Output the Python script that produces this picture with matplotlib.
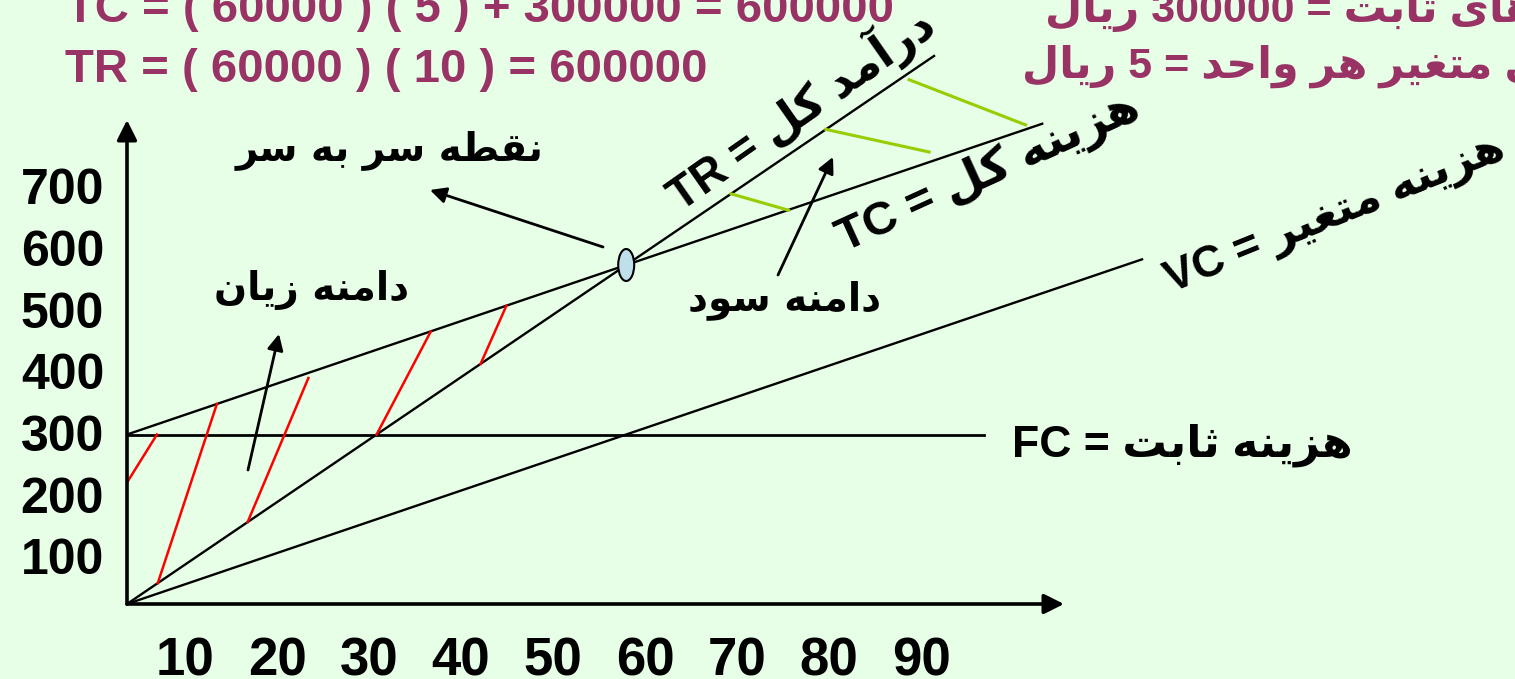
import numpy as np
import matplotlib.pyplot as plt
from matplotlib import font_manager, ft2font
from matplotlib.patches import Ellipse

# break-even model, quantities and money in thousands
fixed_cost = 300
var_cost_per_unit = 5
price_per_unit = 10
break_even_q = fixed_cost / (price_per_unit - var_cost_per_unit)   # 60

# how far each line runs (quantity)
q_tr = np.array([0, 97])
q_tc = np.array([0, 110])
q_vc = np.array([0, 122])
q_fc = np.array([0, 103])

x_tick_values = [10, 20, 30, 40, 50, 60, 70, 80, 90]
y_tick_values = [100, 200, 300, 400, 500, 600, 700]

# hatch strokes: (q0, value0), (q1, value1)
loss_hatch = [((0, 215), (3.6, 300)),
              ((3.7, 37), (10.8, 354)),
              ((14.5, 145), (21.8, 400)),
              ((30, 300), (36.5, 482)),
              ((42.5, 425), (45.6, 528))]
profit_hatch = [((72.6, 726), (79.5, 697)),
                ((84, 840), (96.4, 800)),
                ((94, 928), (108, 848))]

PURPLE = '#993366'
BG = '#e6ffe6'

# ---- tiny Arabic/Persian shaper (matplotlib 3.10 has no text shaping) ----
FORMS = {
    # letter: (isolated, final, initial, medial); None = never joins the next letter
    '\u0622': ('\uFE81', '\uFE82', None, None),
    '\u0627': ('\uFE8D', '\uFE8E', None, None),
    '\u0628': ('\uFE8F', '\uFE90', '\uFE91', '\uFE92'),
    '\u062A': ('\uFE95', '\uFE96', '\uFE97', '\uFE98'),
    '\u062B': ('\uFE99', '\uFE9A', '\uFE9B', '\uFE9C'),
    '\u062D': ('\uFEA1', '\uFEA2', '\uFEA3', '\uFEA4'),
    '\u062F': ('\uFEA9', '\uFEAA', None, None),
    '\u0631': ('\uFEAD', '\uFEAE', None, None),
    '\u0632': ('\uFEAF', '\uFEB0', None, None),
    '\u0633': ('\uFEB1', '\uFEB2', '\uFEB3', '\uFEB4'),
    '\u0637': ('\uFEC1', '\uFEC2', '\uFEC3', '\uFEC4'),
    '\u063A': ('\uFECD', '\uFECE', '\uFECF', '\uFED0'),
    '\u0642': ('\uFED5', '\uFED6', '\uFED7', '\uFED8'),
    '\u0644': ('\uFEDD', '\uFEDE', '\uFEDF', '\uFEE0'),
    '\u0645': ('\uFEE1', '\uFEE2', '\uFEE3', '\uFEE4'),
    '\u0646': ('\uFEE5', '\uFEE6', '\uFEE7', '\uFEE8'),
    '\u0647': ('\uFEE9', '\uFEEA', '\uFEEB', '\uFEEC'),
    '\u0648': ('\uFEED', '\uFEEE', None, None),
    '\u06A9': ('\uFB8E', '\uFB8F', '\uFB90', '\uFB91'),
    '\u06CC': ('\uFBFC', '\uFBFD', '\uFBFE', '\uFBFF'),
}
FALLBACK = {'\u06A9': ('\uFED9', '\uFEDA', '\uFEDB', '\uFEDC'),
            '\u06CC': ('\uFEEF', '\uFEF0', '\uFEF3', '\uFEF4')}

_path = font_manager.findfont(font_manager.FontProperties(family='DejaVu Sans', weight='bold'))
_cmap = ft2font.FT2Font(_path).get_charmap()
for k, alt in FALLBACK.items():
    if not all(ord(c) in _cmap for c in FORMS[k]):
        FORMS[k] = alt


def shape_word(word):
    out = []
    for i, ch in enumerate(word):
        if ch not in FORMS:
            out.append(ch)
            continue
        iso, fin, ini, med = FORMS[ch]
        prev = word[i - 1] if i > 0 else ''
        nxt = word[i + 1] if i + 1 < len(word) else ''
        join_prev = prev in FORMS and FORMS[prev][2] is not None
        join_next = nxt in FORMS and ini is not None
        if join_prev and join_next:
            out.append(med)
        elif join_prev:
            out.append(fin)
        elif join_next:
            out.append(ini)
        else:
            out.append(iso)
    return ''.join(reversed(out))


def rtl(text):
    words = text.split(' ')
    return ' '.join(shape_word(w) if any(c in FORMS for c in w) else w
                    for w in reversed(words))


# ---- figure: one axes over the whole canvas, data units = model units ----
W, H = 1515, 679
X0, Y0 = 127, 604      # pixel of the chart origin
SX, SY = 8.32, 0.565   # pixels per unit

fig = plt.figure(figsize=(W / 100, H / 100), dpi=100, facecolor=BG)
ax = fig.add_axes([0, 0, 1, 1])
ax.set_facecolor(BG)
ax.set_xlim(-X0 / SX, (W - X0) / SX)
ax.set_ylim(-(H - Y0) / SY, Y0 / SY)
ax.axis('off')


def at(px, py):
    # pixel position -> data position, for placing text
    return (px - X0) / SX, (Y0 - py) / SY


LAT = ['Liberation Sans', 'DejaVu Sans']
NARROW = ['Liberation Sans Narrow', 'Liberation Sans']
ARB = ['DejaVu Sans']

# axes with arrow heads
x_end = at(1064, 0)[0]
y_end = at(0, 120)[1]
axis_kw = dict(arrowstyle='-|>', color='black', lw=2.6, mutation_scale=30,
               shrinkA=0, shrinkB=0)
ax.annotate('', xy=(x_end, 0), xytext=(0, 0), arrowprops=axis_kw)
ax.annotate('', xy=(0, y_end), xytext=(0, 0), arrowprops=axis_kw)

# cost / revenue lines
ax.plot(q_fc, [fixed_cost, fixed_cost], color='black', lw=2.0)
ax.plot(q_vc, var_cost_per_unit * q_vc, color='black', lw=1.7)
ax.plot(q_tc, fixed_cost + var_cost_per_unit * q_tc, color='black', lw=1.7)
ax.plot(q_tr, price_per_unit * q_tr, color='black', lw=1.7)

for (a, b) in loss_hatch:
    ax.plot([a[0], b[0]], [a[1], b[1]], color='red', lw=1.8)
for (a, b) in profit_hatch:
    ax.plot([a[0], b[0]], [a[1], b[1]], color='#99cc00', lw=2.2)

ax.add_patch(Ellipse((break_even_q, break_even_q * price_per_unit),
                     width=16 / SX, height=32 / SY, facecolor='#bfe0ea',
                     edgecolor='black', lw=1.5, zorder=5))

# tick labels
for v in x_tick_values:
    ax.text(*at(185 + (v - 10) * 9.2, 676), str(v), fontsize=38, fontweight='bold',
            family=NARROW, ha='center', va='baseline')
for v in y_tick_values:
    ax.text(*at(104, 438 - (v - 300) * 0.617), str(v), fontsize=36, fontweight='bold',
            family=LAT, ha='right', va='center')

# formulas at the top
ax.text(*at(66, 22), 'TC = ( 60000 ) ( 5 ) + 300000 = 600000', fontsize=34,
        fontweight='bold', family=LAT, color=PURPLE, ha='left', va='baseline')
ax.text(*at(65, 82), 'TR = ( 60000 ) ( 10 ) = 600000', fontsize=34,
        fontweight='bold', family=LAT, color=PURPLE, ha='left', va='baseline')
ax.text(*at(1045, 22), rtl('هزینه های ثابت = 300000 ریال'), fontsize=31,
        fontweight='bold', family=LAT, color=PURPLE, ha='left', va='baseline')
ax.text(*at(1022, 78), rtl('هزینه های متغیر هر واحد = 5 ریال'), fontsize=31,
        fontweight='bold', family=LAT, color=PURPLE, ha='left', va='baseline')

# line labels
ax.text(*at(800, 108), 'TR = ' + rtl('درآمد کل'), fontsize=33, fontweight='bold',
        family=LAT, rotation=35, rotation_mode='anchor', ha='center', va='center')
ax.text(*at(988, 172), 'TC = ' + rtl('هزینه کل'), fontsize=34, fontweight='bold',
        family=LAT, rotation=24.5, rotation_mode='anchor', ha='center', va='center')
ax.text(*at(1335, 215), 'VC = ' + rtl('هزینه متغیر'), fontsize=32, fontweight='bold',
        family=LAT, rotation=22, rotation_mode='anchor', ha='center', va='center')
ax.text(*at(1012, 445), 'FC = ' + rtl('هزینه ثابت'), fontsize=32, fontweight='bold',
        family=LAT, ha='left', va='center')

# region labels and their arrows
ax.text(*at(390, 150), rtl('نقطه سر به سر'), fontsize=28, fontweight='bold',
        family=ARB, ha='center', va='center')
ax.text(*at(312, 290), rtl('دامنه زیان'), fontsize=28, fontweight='bold',
        family=ARB, ha='center', va='center')
ax.text(*at(785, 300), rtl('دامنه سود'), fontsize=28, fontweight='bold',
        family=ARB, ha='center', va='center')

arrow_kw = dict(arrowstyle='-|>', color='black', lw=2.0, mutation_scale=24,
                shrinkA=0, shrinkB=0)
ax.annotate('', xy=at(430, 190), xytext=at(603, 247), arrowprops=arrow_kw)
ax.annotate('', xy=at(279, 334), xytext=at(248, 470), arrowprops=arrow_kw)
ax.annotate('', xy=at(833, 157), xytext=at(778, 275), arrowprops=arrow_kw)

fig.savefig('out.png', dpi=100, facecolor=BG)
